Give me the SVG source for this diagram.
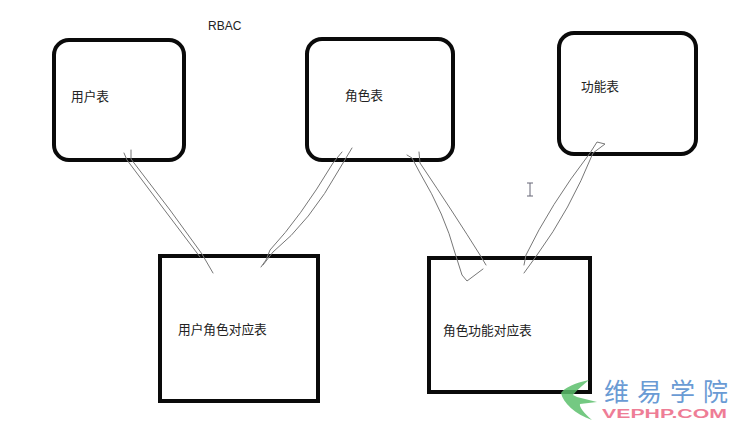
<svg xmlns="http://www.w3.org/2000/svg" width="750" height="433" viewBox="0 0 750 433">
<style>
.box{fill:#fff;stroke:#0a0a0a;stroke-width:4}
.sq{fill:#fff;stroke:#0a0a0a;stroke-width:4}
.t{font-family:"Noto Sans CJK SC","Liberation Sans",sans-serif;font-size:12.7px;fill:#222}
.c{fill:none;stroke:#777;stroke-width:1;stroke-linejoin:round;stroke-linecap:round}
</style>
<rect width="750" height="433" fill="#fff"/>
<text x="208" y="30" class="t" style="font-family:'Liberation Sans',sans-serif;font-size:12px">RBAC</text>
<g id="users"><rect class="box" x="54" y="40" width="130" height="120" rx="15"/><text x="71" y="101" class="t">用户表</text></g>
<g id="roles"><rect class="box" x="307" y="39" width="146" height="121" rx="15"/><text x="345" y="100" class="t">角色表</text></g>
<g id="functions"><rect class="box" x="559" y="33" width="137" height="121" rx="15"/><text x="581" y="91" class="t">功能表</text></g>
<g id="user-role"><rect class="sq" x="160" y="256" width="158" height="145"/><text x="178" y="334" class="t">用户角色对应表</text></g>
<g id="role-function"><rect class="sq" x="429" y="258" width="161" height="134"/><text x="443" y="335" class="t">角色功能对应表</text></g>
<g id="connectors">
<path class="c" d="M124 153L127 160L163 208L200 257"/>
<path class="c" d="M131 150L131 159L170 210L202 254L213 273"/>
<path class="c" d="M342 152L333 163Q300 218 270 250L266 260L261 267"/>
<path class="c" d="M352 148L340 168Q310 222 273 252L263 265"/>
<path class="c" d="M407 155L412 158L420 173Q445 215 455 253L462 275L467 281L483 269"/>
<path class="c" d="M419 152L420 163Q455 215 480 255L486 265"/>
<path class="c" d="M524 265L526 255Q550 205 590 153L597 142L605 144L593 153Q570 210 537 255L524 273"/>
</g>
<path d="M527 183H533M530 183V196M527 196H533" fill="none" stroke="#667" stroke-width="1"/>
<g id="watermark">
<path d="M589 380C575 383 564 388 561 393C563 403 575 414 592 420C584 413 579 407 580 404L597 402L577 397L573 395C577 390 583 385 589 380Z" fill="#5cc06c" fill-opacity="0.85"/>
<text x="604" y="401" font-family="Noto Sans CJK SC,sans-serif" font-size="25" letter-spacing="8" fill="#6a9bd4">维易学院</text>
<text x="602" y="418" font-family="Liberation Sans,sans-serif" font-size="12.5" font-weight="bold" textLength="125" lengthAdjust="spacingAndGlyphs" fill="#ee7d96">VEPHP.COM</text>
</g>
</svg>
